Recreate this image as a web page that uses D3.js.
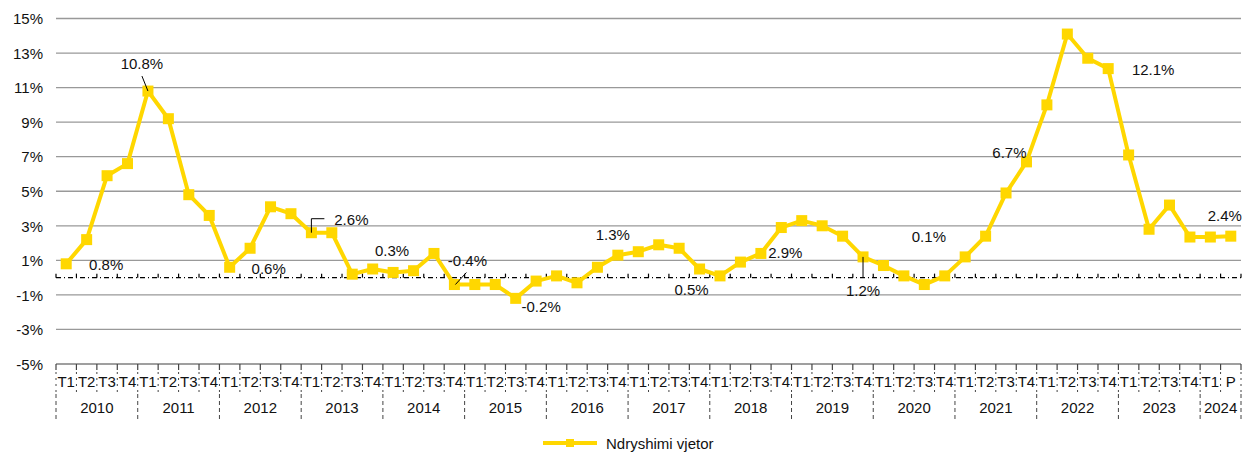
<!DOCTYPE html>
<html>
<head>
<meta charset="utf-8">
<script src="https://cdn.jsdelivr.net/npm/d3@7"></script>
<style>
  body { margin: 0; background: #fff; }
  svg text { font-family: "Liberation Sans", Arial, sans-serif; font-size: 15px; fill: #111; }
</style>
</head>
<body>
<div id="chart"></div>
<script>
'use strict';

// Data
var years = ["2010", "2011", "2012", "2013", "2014", "2015", "2016", "2017",
             "2018", "2019", "2020", "2021", "2022", "2023", "2024"];
var quarterNames = ["T1", "T2", "T3", "T4"];
var lastYearQuarters = ["T1", "P"];

var values = [0.8, 2.2, 5.9, 6.6, 10.8, 9.2, 4.8, 3.6, 0.6, 1.7, 4.1, 3.7,
              2.6, 2.6, 0.2, 0.5, 0.3, 0.4, 1.4, -0.4, -0.4, -0.4, -1.2, -0.2,
              0.1, -0.3, 0.6, 1.3, 1.5, 1.9, 1.7, 0.5, 0.1, 0.9, 1.4, 2.9,
              3.3, 3.0, 2.4, 1.2, 0.7, 0.1, -0.4, 0.1, 1.2, 2.4, 4.9, 6.7,
              10.0, 14.1, 12.7, 12.1, 7.1, 2.8, 4.2, 2.35, 2.35, 2.4];

var yTicks = [-5, -3, -1, 1, 3, 5, 7, 9, 11, 13, 15];

var labelIndex = [0, 4, 8, 12, 16, 19, 23, 27, 31, 35, 39, 41, 47, 51, 57];
var labelText = ["0.8%", "10.8%", "0.6%", "2.6%", "0.3%", "-0.4%", "-0.2%", "1.3%",
                 "0.5%", "2.9%", "1.2%", "0.1%", "6.7%", "12.1%", "2.4%"];

var seriesName = "Ndryshimi vjetor";

// Layout of the data labels (offset from the point) and their leader lines
var labelOffset = [[40, 1], [-6, -28], [39, 1], [40, -13], [-1, -22], [13, -24], [5, 25],
                   [-5, -21], [-8, 21], [4, 25], [0, 34], [25, -39], [-17, -9], [45, 1], [-6, -21]];
var leaders = { 1: [[-6, -15], [0, 0]], 3: [[0, 0], [0, -14], [13, -14]],
                5: [[1, 0], [12, -12]], 10: [[0, 0], [0, 21]] };

var svgWidth = 1243, svgHeight = 452;
var margin = {top: 18.5, right: 2, bottom: 88, left: 56};
var color = "#FFD700";

var categories = [];
years.forEach(function(yr, yi) {
  var qs = yi === years.length - 1 ? lastYearQuarters : quarterNames;
  qs.forEach(function(q) { categories.push({year: yr, q: q}); });
});

var svg = d3.select("#chart").append("svg")
  .attr("width", svgWidth)
  .attr("height", svgHeight);

var x = d3.scaleBand()
  .domain(d3.range(categories.length))
  .range([margin.left, svgWidth - margin.right])
  .padding(0);

var y = d3.scaleLinear()
  .domain([-5, 15])
  .range([svgHeight - margin.bottom, margin.top]);

var cx = function(i) { return x(i) + x.bandwidth() / 2; };
var x0 = margin.left, x1 = svgWidth - margin.right;

// Grid lines
svg.append("g").selectAll("line")
  .data(yTicks)
  .enter().append("line")
  .attr("x1", x0).attr("x2", x1)
  .attr("y1", function(d) { return y(d); })
  .attr("y2", function(d) { return y(d); })
  .attr("stroke", "#999")
  .attr("stroke-width", 1.3);

// Y axis labels
var yAxis = svg.append("g")
  .attr("transform", "translate(" + (x0 - 13) + ",0)")
  .call(d3.axisLeft(y).tickValues(yTicks).tickSize(0).tickFormat(function(d) { return d + "%"; }));
yAxis.select(".domain").remove();
yAxis.selectAll("text").attr("x", 0).attr("dy", "0.35em")
  .style("font-size", "15px").style("fill", "#111")
  .style("font-family", '"Liberation Sans", Arial, sans-serif');

// Zero line (dashed category axis)
var zeroY = y(0);
svg.append("line")
  .attr("x1", x0).attr("x2", x1)
  .attr("y1", zeroY).attr("y2", zeroY)
  .attr("stroke", "#000")
  .attr("stroke-width", 1.2)
  .attr("stroke-dasharray", "5 3 1 3");
var bounds = d3.range(categories.length + 1).map(function(i) {
  return i < categories.length ? x(i) : x1;
});
svg.append("g").selectAll("line")
  .data(bounds)
  .enter().append("line")
  .attr("x1", function(d) { return d; }).attr("x2", function(d) { return d; })
  .attr("y1", zeroY - 4).attr("y2", zeroY)
  .attr("stroke", "#000").attr("stroke-width", 1.2);

// Bottom axis
var baseY = y(-5);
svg.append("line")
  .attr("x1", x0).attr("x2", x1)
  .attr("y1", baseY).attr("y2", baseY)
  .attr("stroke", "#999").attr("stroke-width", 1.3);

svg.append("g").selectAll("line")
  .data(bounds)
  .enter().append("line")
  .attr("x1", function(d) { return d; }).attr("x2", function(d) { return d; })
  .attr("y1", baseY).attr("y2", baseY + 6)
  .attr("stroke", "#444").attr("stroke-width", 1.2);

// quarter separators
svg.append("g").selectAll("line")
  .data(bounds)
  .enter().append("line")
  .attr("x1", function(d) { return d; }).attr("x2", function(d) { return d; })
  .attr("y1", baseY + 8).attr("y2", baseY + 30)
  .attr("stroke", "#444").attr("stroke-width", 1)
  .attr("stroke-dasharray", "2 4");

// year separators
var yearStarts = [];
categories.forEach(function(c, i) { if (i === 0 || categories[i - 1].year !== c.year) yearStarts.push(i); });
var yearBounds = yearStarts.map(function(i) { return x(i); }).concat([x1]);
svg.append("g").selectAll("line")
  .data(yearBounds)
  .enter().append("line")
  .attr("x1", function(d) { return d; }).attr("x2", function(d) { return d; })
  .attr("y1", baseY + 30).attr("y2", baseY + 57)
  .attr("stroke", "#444").attr("stroke-width", 1)
  .attr("stroke-dasharray", "4 3");

svg.append("g").selectAll("text")
  .data(categories)
  .enter().append("text")
  .attr("x", function(d, i) { return cx(i); })
  .attr("y", baseY + 17)
  .attr("text-anchor", "middle")
  .attr("dominant-baseline", "central")
  .text(function(d) { return d.q; });

svg.append("g").selectAll("text")
  .data(years)
  .enter().append("text")
  .attr("x", function(d, i) { return (yearBounds[i] + yearBounds[i + 1]) / 2; })
  .attr("y", baseY + 43)
  .attr("text-anchor", "middle")
  .attr("dominant-baseline", "central")
  .text(function(d) { return d; });

// Series line
var line = d3.line()
  .x(function(d, i) { return cx(i); })
  .y(function(d) { return y(d); });

svg.append("path")
  .datum(values)
  .attr("fill", "none")
  .attr("stroke", color)
  .attr("stroke-width", 4)
  .attr("stroke-linejoin", "round")
  .attr("d", line);

svg.append("g").selectAll("rect")
  .data(values)
  .enter().append("rect")
  .attr("x", function(d, i) { return cx(i) - 5.5; })
  .attr("y", function(d) { return y(d) - 5.5; })
  .attr("width", 11).attr("height", 11)
  .attr("fill", color);

// Data labels
labelIndex.forEach(function(idx, k) {
  var px = cx(idx), py = y(values[idx]);
  if (leaders[k]) {
    svg.append("path")
      .attr("d", d3.line()(leaders[k].map(function(p) { return [px + p[0], py + p[1]]; })))
      .attr("fill", "none")
      .attr("stroke", "#000")
      .attr("stroke-width", 1);
  }
  svg.append("text")
    .attr("x", px + labelOffset[k][0])
    .attr("y", py + labelOffset[k][1])
    .attr("text-anchor", "middle")
    .attr("dominant-baseline", "central")
    .text(labelText[k]);
});

// Legend
var legend = svg.append("g").attr("transform", "translate(543,443)");
legend.append("line")
  .attr("x1", 0).attr("x2", 54)
  .attr("stroke", color).attr("stroke-width", 4);
legend.append("rect")
  .attr("x", 23).attr("y", -4).attr("width", 8).attr("height", 8)
  .attr("fill", color);
legend.append("text")
  .attr("x", 63).attr("y", 0)
  .attr("dominant-baseline", "central")
  .text(seriesName);
</script>
</body>
</html>
